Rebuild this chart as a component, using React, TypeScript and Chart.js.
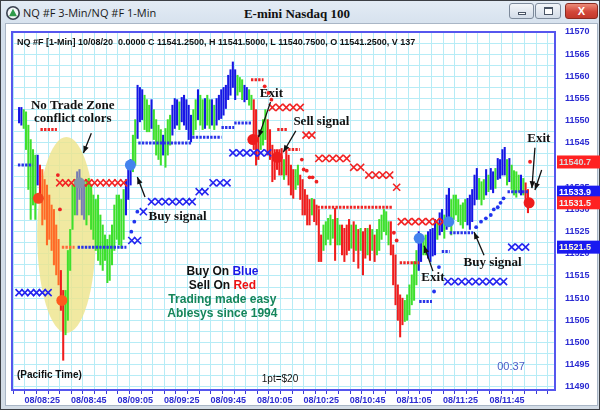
import React, { useEffect, useRef } from 'react';
import { Chart, registerables } from 'chart.js';

Chart.register(...registerables);

// ---------- DATA ----------
// 1-minute bars, minutes after 08:00 (first bar = 08:15)
const FIRST_BAR_MINUTE = 15;
const barHighs = [
  11553.0, 11553.0, 11552.5, 11552.0, 11549.0, 11545.75, 11543.5, 11542.25, 11542.25, 11540.0,
  11539.0, 11536.75, 11535.5, 11533.25, 11531.0, 11530.0, 11526.5, 11523.25, 11516.25, 11511.75,
  11511.75, 11520.75, 11525.5, 11535.5, 11536.75, 11538.5, 11539.0, 11536.75, 11535.5, 11536.75,
  11537.0, 11535.5, 11533.25, 11532.25, 11533.25, 11528.75, 11526.5, 11524.25, 11523.25, 11524.25,
  11526.5, 11531.0, 11533.25, 11533.25, 11532.25, 11534.5, 11536.75, 11540.0, 11541.25, 11546.75,
  11550.25, 11558.0, 11557.5, 11557.0, 11555.75, 11554.75, 11553.5, 11554.75, 11552.5, 11550.25,
  11549.0, 11548.0, 11546.75, 11548.25, 11550.25, 11551.25, 11553.5, 11555.0, 11554.75, 11554.25,
  11555.25, 11555.75, 11554.75, 11553.5, 11551.25, 11552.5, 11554.75, 11557.0, 11555.75, 11554.75,
  11555.0, 11555.75, 11554.75, 11554.75, 11553.5, 11555.0, 11555.75, 11557.0, 11557.5, 11558.0,
  11560.25, 11561.5, 11563.25, 11561.5, 11560.25, 11559.75, 11559.25, 11558.0, 11557.5, 11557.0,
  11555.75, 11554.75, 11552.5, 11546.75, 11548.0, 11550.25, 11552.5, 11550.25, 11548.0, 11544.5,
  11543.5, 11543.5, 11543.5, 11543.75, 11541.25, 11543.5, 11542.25, 11540.0, 11539.0, 11539.0,
  11540.0, 11537.75, 11536.75, 11534.5, 11533.25, 11532.25, 11532.5, 11532.25, 11531.0, 11530.0,
  11524.25, 11526.5, 11527.25, 11528.0, 11528.75, 11527.75, 11530.25, 11528.0, 11526.5, 11526.5,
  11525.75, 11526.5, 11527.75, 11526.5, 11527.25, 11526.5, 11525.5, 11525.75, 11525.0, 11525.75,
  11525.75, 11526.5, 11525.5, 11524.25, 11525.5, 11527.75, 11528.75, 11530.0, 11529.5, 11527.25,
  11527.25, 11522.0, 11519.75, 11513.0, 11510.75, 11510.0, 11509.5, 11510.75, 11513.0, 11515.25,
  11518.25, 11520.75, 11525.0, 11523.25, 11523.5, 11524.25, 11525.0, 11525.5, 11525.75, 11527.75,
  11527.25, 11529.25, 11530.0, 11528.75, 11533.25, 11534.75, 11532.25, 11533.25, 11533.25, 11532.25,
  11531.0, 11531.5, 11532.25, 11532.5, 11533.25, 11534.5, 11537.75, 11539.25, 11537.0, 11536.25,
  11536.75, 11539.0, 11537.75, 11539.25, 11538.5, 11539.25, 11541.5, 11541.25, 11543.5, 11544.0,
  11541.25, 11541.5, 11540.0, 11538.75, 11538.5, 11537.75, 11537.75, 11537.0, 11536.0, 11534.5,
];
const barLows = [
  11549.5, 11549.0, 11548.25, 11543.5, 11534.5, 11527.75, 11531.0, 11527.75, 11535.5, 11532.25,
  11526.5, 11527.75, 11522.0, 11523.25, 11520.75, 11517.5, 11515.25, 11513.0, 11507.25, 11496.0,
  11501.75, 11505.0, 11516.25, 11525.5, 11528.75, 11528.75, 11532.25, 11528.75, 11527.75, 11526.5,
  11528.75, 11525.5, 11523.25, 11520.75, 11518.5, 11517.5, 11516.25, 11518.5, 11513.5, 11514.0,
  11517.5, 11520.75, 11523.25, 11522.0, 11521.25, 11523.25, 11528.75, 11532.25, 11535.5, 11538.5,
  11540.0, 11546.0, 11549.75, 11550.25, 11548.0, 11547.5, 11547.5, 11548.25, 11545.75, 11542.25,
  11541.25, 11540.0, 11542.25, 11539.5, 11542.25, 11544.5, 11546.75, 11548.25, 11549.0, 11548.0,
  11549.75, 11549.0, 11548.0, 11545.75, 11545.25, 11546.75, 11548.0, 11550.25, 11549.0, 11548.0,
  11548.25, 11549.0, 11548.25, 11549.0, 11548.0, 11549.0, 11550.25, 11550.5, 11551.25, 11552.75,
  11554.75, 11555.75, 11557.5, 11554.75, 11555.75, 11556.5, 11554.75, 11554.25, 11554.75, 11553.5,
  11552.5, 11543.5, 11540.0, 11541.25, 11543.5, 11544.5, 11545.75, 11542.25, 11541.25, 11536.25,
  11536.75, 11539.0, 11537.75, 11537.75, 11536.75, 11537.75, 11535.5, 11533.25, 11532.5, 11534.5,
  11535.5, 11532.25, 11528.75, 11528.75, 11526.5, 11526.5, 11528.75, 11527.25, 11526.5, 11518.25,
  11518.25, 11520.75, 11522.0, 11523.25, 11522.0, 11523.5, 11518.5, 11522.0, 11522.0, 11519.75,
  11518.25, 11519.75, 11520.75, 11521.25, 11518.25, 11520.75, 11516.75, 11520.75, 11515.25, 11519.0,
  11519.75, 11518.5, 11520.75, 11518.25, 11519.75, 11520.75, 11523.25, 11525.0, 11524.25, 11522.0,
  11519.75, 11513.0, 11508.5, 11505.0, 11501.25, 11504.0, 11504.75, 11505.0, 11506.25, 11508.5,
  11509.5, 11513.0, 11516.25, 11518.25, 11519.75, 11519.75, 11519.0, 11518.25, 11519.5, 11519.75,
  11523.25, 11524.25, 11525.0, 11523.5, 11525.5, 11526.5, 11524.25, 11527.75, 11528.75, 11527.25,
  11526.5, 11525.75, 11527.25, 11526.5, 11525.5, 11527.25, 11531.0, 11532.25, 11532.25, 11531.0,
  11532.25, 11533.25, 11534.0, 11534.5, 11533.75, 11534.75, 11536.75, 11537.0, 11537.75, 11537.75,
  11535.5, 11536.25, 11534.5, 11533.25, 11532.75, 11534.0, 11533.25, 11533.25, 11531.0, 11529.25,
];
// B = blue (buy), G = green, R = red (sell), O = orange, P = grey (conflict)
const barColorCodes =
  'BBGGGGGGBR' + 'OOOOOOOORR' + 'GGGGGPPPPG' + 'GGGGGGGGGG' + 'GGGGGGBBBG' +
  'GBBBGGGBGG' + 'GGBGGGBBBG' + 'BBBBBGGBGG' + 'BGGBGBBBBB' + 'BBBBGGGBBG' +
  'GRRRGGGRRR' + 'RRRRGRRRRG' + 'GRRRRRGRRR' + 'RGGGGGRGGR' + 'RRRGRGRGRR' +
  'GRGRGGGGGG' + 'RRRRRRGGGG' + 'GGBBGGBBBB' + 'GBBGBBGGGG' + 'GGGBBBBBGG' +
  'GBGBBGBBBB' + 'GBGGGGBGRR';

// Stop markers (X)
const blueXMinutes = [15, 17.5, 20, 22.5, 25, 27.5, 63.5, 66, 68.5, 72, 75, 78, 81, 84, 87, 89.5, 92.5, 95,
  98.5, 101.5, 104.5, 107, 110, 113, 116, 119, 122, 199.5, 202.5, 205.5, 208.5, 211.5, 214.5, 217.5, 220.5,
  223.5, 227, 230, 233];
const blueXValues = [11511.25, 11511.25, 11511.25, 11511.25, 11511.25, 11511.25, 11523, 11523, 11529.5,
  11531.75, 11531.75, 11531.75, 11531.75, 11531.75, 11531.75, 11531.75, 11534, 11534, 11536, 11536, 11536,
  11542.75, 11542.75, 11542.75, 11542.75, 11542.75, 11542.75, 11513.75, 11513.75, 11513.75, 11513.75,
  11513.75, 11513.75, 11513.75, 11513.75, 11513.75, 11521.5, 11521.5, 11521.5];
const redXMinutes = [32.5, 35, 37.5, 40, 42.5, 45, 47.5, 50, 52.5, 55, 57.5, 60, 124, 127, 130, 133, 136,
  138.5, 141, 144, 147, 150, 153, 156, 159, 162, 165.5, 168.5, 171.5, 174.5, 177.5, 179.5, 182.5, 185.5,
  188.5, 191.5, 194.5, 197.5];
const redXValues = [11536, 11536, 11536, 11536, 11536, 11536, 11536, 11536, 11536, 11536, 11536, 11536,
  11553, 11553, 11553, 11553, 11553, 11546.75, 11546.75, 11541.5, 11541.5, 11541.5, 11541.5, 11541.5,
  11539.5, 11539.5, 11537.75, 11537.75, 11537.75, 11537.75, 11535, 11527.25, 11527.25, 11527.25, 11527.25,
  11527.25, 11527.25, 11527.25];

// Stop-level dotted segments
const blueLevelStart = [14.5, 40.2, 66.3, 89.5, 102.1, 107.6, 187.2, 196.9, 200.3, 225.2];
const blueLevelEnd = [20.8, 61.2, 89.5, 102.1, 107.6, 114.8, 192.7, 200.3, 210.4, 234.0];
const blueLevelValue = [11540.0, 11521.5, 11545.0, 11546.25, 11548.5, 11549.5, 11509.25, 11520.5, 11524.75, 11534.0];
const redLevelStart = [24.2, 114.8, 126.1, 130.8, 143.4, 178.8];
const redLevelEnd = [31.3, 120.2, 130.4, 135.8, 175.9, 187.2];
const redLevelValue = [11548.0, 11559.25, 11548.0, 11543.5, 11530.5, 11518.0];
const orangeLevelStart = [33.4];
const orangeLevelEnd = [38.9];
const orangeLevelValue = [11521.5];

// Small stop dots
const blueDotMinutes = [63.3, 64.6, 65.9, 193.6, 195.7, 211.7, 213.8, 215.9, 218.0, 219.3, 221.0, 222.2, 223.5];
const blueDotValues = [11525.0, 11527.25, 11529.5, 11511.5, 11517.0, 11526.0, 11527.25, 11528.0, 11528.75,
  11530.0, 11530.5, 11531.5, 11532.5];
const redDotMinutes = [31.7, 32.6, 120.7, 122.3, 123.6, 136.7, 137.5, 138.8, 140.0, 141.3, 143.0, 176.3, 177.5, 234.9];
const redDotValues = [11537.75, 11530.0, 11557.75, 11556.25, 11554.75, 11541.25, 11539.0, 11538.75, 11537.25,
  11537.25, 11536.25, 11524.75, 11523.0, 11540.75];

// Signal dots
const signalMinutes = [23.3, 33.4, 41.0, 62.9, 115.6, 126.1, 187.2, 199.9, 234.5];
const signalValues = [11532.5, 11509.5, 11536.0, 11540.0, 11545.75, 11541.75, 11523.5, 11527.25, 11531.5];
const signalColors = ['#f2461e', '#ff5a1e', '#8296aa', '#4383ee', '#ee1c1c', '#ee1c1c', '#4383ee', '#4383ee', '#ee1c1c'];

// Axis labels
const xLabelMinutes = [25, 45, 65, 85, 105, 125, 145, 165, 185, 205, 225];
const xLabels = ['08/08:25', '08/08:45', '08/09:05', '08/09:25', '08/09:45', '08/10:05', '08/10:25',
  '08/10:45', '08/11:05', '08/11:25', '08/11:45'];
const yLabelValues = [11490, 11495, 11500, 11505, 11510, 11515, 11520, 11525, 11530, 11535, 11540, 11545,
  11550, 11555, 11560, 11565, 11570];

// Right-side price tags
const priceTagValues = [11540.7, 11533.9, 11531.5, 11521.5];
const priceTagLabels = ['11540.7', '11533.9', '11531.5', '11521.5'];

// Annotations (data coordinates: minute, price)
const noteTexts = ['No Trade Zone', 'conflict colors', 'Buy signal', 'Exit', 'Sell signal', 'Exit', 'Buy signal', 'Exit'];
const noteMinutes = [38.1, 38.1, 83.2, 123.6, 145.1, 193.1, 218.8, 238.7];
const noteValues = [11553.4, 11550.4, 11528.3, 11556.2, 11549.7, 11514.6, 11517.9, 11545.9];
const arrowFromMinute = [46.1, 69.2, 123.2, 134.1, 193.1, 215.1, 237.0, 239.9];
const arrowFromValue = [11547.2, 11532.8, 11554.2, 11547.7, 11516.1, 11519.7, 11543.9, 11538.9];
const arrowToMinute = [42.7, 65.9, 118.1, 128.7, 189.3, 210.8, 235.7, 237.0];
const arrowToValue = [11542.7, 11537.3, 11546.3, 11542.9, 11521.8, 11524.9, 11534.8, 11534.4];

const COLORS: Record<string, string> = {
  B: '#1616e4', G: '#3ee02c', R: '#f01c1c', O: '#ff6a26', P: '#767cb4',
};

function levelData(starts: number[], ends: number[], values: number[]) {
  const out: any[] = [];
  starts.forEach((s, i) => {
    out.push({ x: s, y: values[i] });
    out.push({ x: ends[i], y: values[i] });
    out.push({ x: ends[i] + 0.01, y: null });
  });
  return out;
}

function drawArrow(ctx: CanvasRenderingContext2D, x1: number, y1: number, x2: number, y2: number) {
  ctx.beginPath();
  ctx.moveTo(x1, y1);
  ctx.lineTo(x2, y2);
  ctx.stroke();
  const a = Math.atan2(y2 - y1, x2 - x1);
  const L = 7, W = 2.8;
  ctx.beginPath();
  ctx.moveTo(x2, y2);
  ctx.lineTo(x2 - L * Math.cos(a) + W * Math.sin(a), y2 - L * Math.sin(a) - W * Math.cos(a));
  ctx.lineTo(x2 - L * Math.cos(a) - W * Math.sin(a), y2 - L * Math.sin(a) + W * Math.cos(a));
  ctx.closePath();
  ctx.fill();
}

const SANS = '"Liberation Sans", Arial, sans-serif';
const SERIF = '"Liberation Serif", "Times New Roman", serif';
const AXIS_BLUE = '#2b2bd2';
const GRID = '#b6ecf6';

const overlayPlugin = {
  id: 'overlayPlugin',
  beforeDatasetsDraw(chart: any) {
    const { ctx, chartArea, scales } = chart;
    const x = scales.x, y = scales.y;
    ctx.save();
    ctx.beginPath();
    ctx.rect(chartArea.left, chartArea.top, chartArea.right - chartArea.left, chartArea.bottom - chartArea.top);
    ctx.clip();
    // No trade zone ellipse
    const cx = x.getPixelForValue(35.4), cy = y.getPixelForValue(11524.25);
    const rx = Math.abs(x.getPixelForValue(35.4 + 12.6) - cx);
    const ry = Math.abs(y.getPixelForValue(11524.25 + 22.1) - cy);
    ctx.fillStyle = 'rgba(238, 228, 140, 0.82)';
    ctx.beginPath();
    ctx.ellipse(cx, cy, rx, ry, 0, 0, Math.PI * 2);
    ctx.fill();
    ctx.restore();
  },
  afterDatasetsDraw(chart: any) {
    const { ctx, chartArea, scales } = chart;
    const x = scales.x, y = scales.y;
    ctx.save();
    // frame
    ctx.strokeStyle = '#5656ee';
    ctx.lineWidth = 2;
    ctx.strokeRect(chartArea.left, chartArea.top, chartArea.right - chartArea.left, chartArea.bottom - chartArea.top);

    // header
    ctx.fillStyle = '#111';
    ctx.font = `bold 9px ${SANS}`;
    ctx.textAlign = 'left';
    ctx.textBaseline = 'middle';
    ctx.fillText('NQ #F [1-Min] 10/08/20  0.0000 C 11541.2500, H 11541.5000, L 11540.7500, O 11541.2500, V 137',
      chartArea.left + 5, chartArea.top + 11);

    // annotations
    ctx.font = `bold 13px ${SERIF}`;
    ctx.textAlign = 'center';
    noteTexts.forEach((t, i) => {
      ctx.fillText(t, x.getPixelForValue(noteMinutes[i]), y.getPixelForValue(noteValues[i]));
    });
    ctx.strokeStyle = '#111';
    ctx.lineWidth = 1.3;
    arrowFromMinute.forEach((m, i) => {
      drawArrow(ctx, x.getPixelForValue(m), y.getPixelForValue(arrowFromValue[i]),
        x.getPixelForValue(arrowToMinute[i]), y.getPixelForValue(arrowToValue[i]));
    });

    // center legend text
    const lines: [string, string][][] = [
      [['Buy On ', '#111'], ['Blue', '#1a1ae6']],
      [['Sell On ', '#111'], ['Red', '#ee1111']],
      [['Trading made easy', '#16855a']],
      [['Ablesys since 1994', '#16855a']],
    ];
    const lineValues = [11515.9, 11512.75, 11509.6, 11506.45];
    ctx.font = `bold 12px ${SANS}`;
    ctx.textAlign = 'left';
    const midX = x.getPixelForValue(102.5);
    lines.forEach((parts, i) => {
      const total = parts.reduce((s, p) => s + ctx.measureText(p[0]).width, 0);
      let px = midX - total / 2;
      const py = y.getPixelForValue(lineValues[i]);
      parts.forEach(([txt, col]) => {
        ctx.fillStyle = col;
        ctx.fillText(txt, px, py);
        px += ctx.measureText(txt).width;
      });
    });

    // footer texts
    ctx.fillStyle = '#111';
    ctx.font = `bold 10px ${SANS}`;
    ctx.fillText('(Pacific Time)', chartArea.left + 5, chartArea.bottom - 15);
    ctx.font = `10px ${SANS}`;
    ctx.textAlign = 'center';
    ctx.fillText('1pt=$20', 280, chartArea.bottom - 11);
    ctx.font = `11px ${SANS}`;
    ctx.fillStyle = '#4a5cc6';
    ctx.fillText('00:37', 511, chartArea.bottom - 23);
    ctx.restore();
  },
  afterDraw(chart: any) {
    const { ctx, chartArea, scales } = chart;
    const y = scales.y;
    ctx.save();
    ctx.font = `bold 9px ${SANS}`;
    ctx.textAlign = 'left';
    ctx.textBaseline = 'middle';
    const bg = ['#ff2121', '#1a1af0', '#ff2121', '#1a1af0'];
    const fg = ['#d9d9d9', '#ffffff', '#f4f4f4', '#fffbd8'];
    priceTagValues.forEach((v, i) => {
      const py = y.getPixelForValue(v);
      ctx.fillStyle = bg[i];
      ctx.fillRect(chartArea.right + 2, py - 6.5, 46, 13);
      ctx.fillStyle = fg[i];
      ctx.fillText(priceTagLabels[i], chartArea.right + 4, py + 0.5);
    });
    ctx.restore();
  },
};

export default function App() {
  const ref = useRef<HTMLCanvasElement>(null);

  useEffect(() => {
    const xGrid: number[] = [];
    for (let m = 15; m <= 240; m += 5) xGrid.push(m);
    const yGrid: number[] = [];
    for (let v = 11490; v <= 11570; v += 2.5) yGrid.push(v);

    const bars = barHighs.map((h, i) => ({ x: FIRST_BAR_MINUTE + i, y: [barLows[i], h] }));
    const barColors = barHighs.map((_, i) => COLORS[barColorCodes[i]]);

    const chart = new Chart(ref.current as HTMLCanvasElement, {
      type: 'bar',
      data: {
        datasets: [
          {
            type: 'scatter',
            data: signalMinutes.map((m, i) => ({ x: m, y: signalValues[i] })),
            pointRadius: 5.5,
            pointBackgroundColor: signalColors,
            pointBorderColor: signalColors,
            pointBorderWidth: 0,
            order: 1,
          } as any,
          {
            type: 'scatter',
            data: blueXMinutes.map((m, i) => ({ x: m, y: blueXValues[i] })),
            pointStyle: 'crossRot',
            pointRadius: 5,
            borderColor: '#2424f0',
            borderWidth: 1.6,
            order: 3,
          } as any,
          {
            type: 'scatter',
            data: redXMinutes.map((m, i) => ({ x: m, y: redXValues[i] })),
            pointStyle: 'crossRot',
            pointRadius: 5,
            borderColor: '#f22424',
            borderWidth: 1.6,
            order: 3,
          } as any,
          {
            type: 'scatter',
            data: blueDotMinutes.map((m, i) => ({ x: m, y: blueDotValues[i] })),
            pointRadius: 1.9,
            backgroundColor: '#2233ee',
            borderWidth: 0,
            order: 4,
          } as any,
          {
            type: 'scatter',
            data: redDotMinutes.map((m, i) => ({ x: m, y: redDotValues[i] })),
            pointRadius: 1.9,
            backgroundColor: '#ee2222',
            borderWidth: 0,
            order: 4,
          } as any,
          {
            type: 'line',
            data: levelData(blueLevelStart, blueLevelEnd, blueLevelValue),
            borderColor: '#2a34e8',
            borderWidth: 3,
            borderDash: [2.4, 1.2],
            pointRadius: 0,
            spanGaps: false,
            order: 5,
          } as any,
          {
            type: 'line',
            data: levelData(redLevelStart, redLevelEnd, redLevelValue),
            borderColor: '#ee2626',
            borderWidth: 3,
            borderDash: [2.4, 1.2],
            pointRadius: 0,
            spanGaps: false,
            order: 5,
          } as any,
          {
            type: 'line',
            data: levelData(orangeLevelStart, orangeLevelEnd, orangeLevelValue),
            borderColor: '#ff6a3a',
            borderWidth: 3,
            borderDash: [2.4, 1.2],
            pointRadius: 0,
            spanGaps: false,
            order: 5,
          } as any,
          {
            type: 'bar',
            data: bars,
            backgroundColor: barColors,
            borderWidth: 0,
            barThickness: 1.4,
            grouped: false,
            order: 10,
          } as any,
        ],
      },
      options: {
        animation: false,
        responsive: false,
        devicePixelRatio: 1,
        layout: { padding: { left: 12, top: 32, right: 0, bottom: 0 } },
        plugins: { legend: { display: false }, tooltip: { enabled: false } },
        scales: {
          x: {
            type: 'linear',
            min: 14.5,
            max: 243.1,
            afterBuildTicks: (s: any) => { s.ticks = xGrid.map((v) => ({ value: v })); },
            afterFit: (s: any) => { s.height = 20; },
            grid: { color: GRID, tickColor: '#3a3ad8', tickLength: 4, drawTicks: true, lineWidth: 1 },
            border: { display: false },
            ticks: {
              autoSkip: false,
              maxRotation: 0,
              padding: 1,
              color: AXIS_BLUE,
              font: { family: SANS, size: 9, weight: 'bold' },
              callback: (v: any) => {
                const i = xLabelMinutes.indexOf(Number(v));
                return i >= 0 ? xLabels[i] : '';
              },
            },
          },
          y: {
            type: 'linear',
            position: 'right',
            min: 11489.3,
            max: 11570,
            afterBuildTicks: (s: any) => { s.ticks = yGrid.map((v) => ({ value: v })); },
            afterFit: (s: any) => { s.width = 45; },
            grid: { color: GRID, drawTicks: false, lineWidth: 1 },
            border: { display: false },
            ticks: {
              autoSkip: false,
              padding: 10,
              color: AXIS_BLUE,
              font: { family: SANS, size: 9, weight: 'bold' },
              callback: (v: any) => (yLabelValues.includes(Number(v)) ? String(v) : ''),
            },
          },
        },
      } as any,
      plugins: [overlayPlugin],
    });
    return () => chart.destroy();
  }, []);

  const btn: React.CSSProperties = {
    position: 'absolute', top: 3, height: 16, boxSizing: 'border-box', borderRadius: 3,
    border: '1px solid #7d8a9b', background: 'linear-gradient(#f3f6fa, #d3dce8)',
  };

  return (
    <div style={{ position: 'fixed', left: 0, top: 0, width: 600, height: 410, overflow: 'hidden',
      background: 'linear-gradient(#e4ecf5, #d3dfec 30px, #d3dce6)' }}>
      <div style={{ position: 'absolute', inset: 0, boxShadow: 'inset 0 0 0 1px #3c3f44' }} />
      {/* icon */}
      <svg width="16" height="16" style={{ position: 'absolute', left: 5, top: 5 }}>
        <circle cx="8" cy="8" r="7" fill="#3a4250" />
        <circle cx="8" cy="8" r="5.4" fill="#f4f6f8" />
        <polygon points="8,3.8 12,11.2 4,11.2" fill="#2f9a4a" />
      </svg>
      <div style={{ position: 'absolute', left: 23, top: 4, fontFamily: '"Open Sans", "Noto Sans", sans-serif',
        fontSize: 11, lineHeight: '17px', color: '#1a1a1a', whiteSpace: 'nowrap' }}>NQ #F 3-Min/NQ #F 1-Min</div>
      <div style={{ position: 'absolute', left: 197, width: 200, top: 5, textAlign: 'center', fontFamily: SERIF,
        fontWeight: 'bold', fontSize: 13, lineHeight: '17px', color: '#111', whiteSpace: 'nowrap' }}>E-mini Nasdaq 100</div>
      {/* window buttons */}
      <div style={{ ...btn, left: 509, width: 25 }}>
        <div style={{ position: 'absolute', left: 8, top: 8, width: 8, height: 3, background: '#fff', border: '1px solid #4a5566', boxSizing: 'border-box' }} />
      </div>
      <div style={{ ...btn, left: 535, width: 26 }}>
        <div style={{ position: 'absolute', left: 8, top: 3, width: 9, height: 8, border: '1px solid #4a5566', borderTopWidth: 2, boxSizing: 'border-box', background: '#fff' }} />
      </div>
      <div style={{ ...btn, left: 565, width: 33, border: '1px solid #8a2b22', background: 'linear-gradient(#eb8b78, #d2473a 55%, #c3392c)',
        color: '#fff', fontFamily: SANS, fontWeight: 'bold', fontSize: 11, lineHeight: '14px', textAlign: 'center' }}>X</div>
      {/* white chart panel */}
      <div style={{ position: 'absolute', left: 6, top: 24, width: 591, height: 381, background: '#ffffff',
        boxShadow: '0 0 0 1px #a9b6c6' }} />
      <canvas ref={ref} width={600} height={410}
        style={{ position: 'absolute', left: 0, top: 0, width: 600, height: 410 }} />
    </div>
  );
}
